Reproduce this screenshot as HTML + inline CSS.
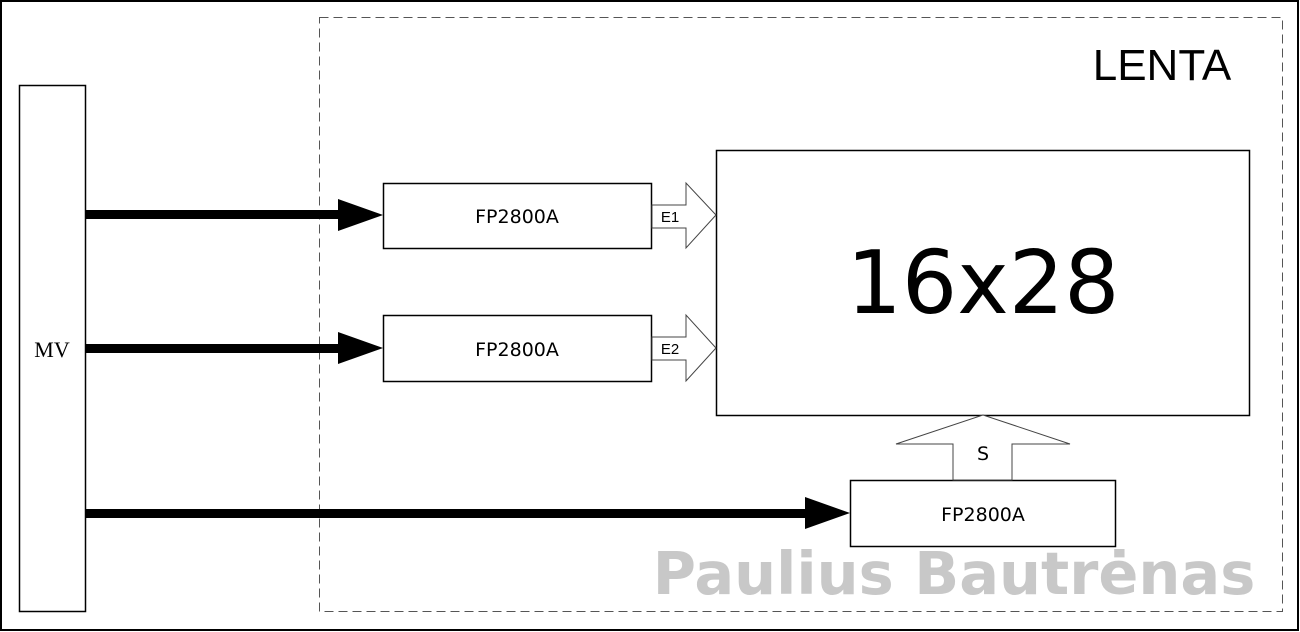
<!DOCTYPE html>
<html><head><meta charset="utf-8"><style>
html,body{margin:0;padding:0;background:#fff;}
svg{display:block;}
</style></head><body>
<svg width="1300" height="632" viewBox="0 0 1300 632" xmlns="http://www.w3.org/2000/svg">
<rect x="1" y="1" width="1297" height="629" fill="#fff" stroke="#000" stroke-width="2"/>
<rect x="319.5" y="17.5" width="963" height="594" fill="none" stroke="#555" stroke-width="1" stroke-dasharray="9,5"/>
<text x="1162" y="80" font-family="'Liberation Sans',sans-serif" font-size="44" text-anchor="middle" fill="#000">LENTA</text>
<text x="954" y="594" font-family="'DejaVu Sans',sans-serif" font-weight="bold" font-size="59" text-anchor="middle" fill="#c8c8c8">Paulius Bautrėnas</text>
<rect x="19.5" y="85.5" width="66" height="526" fill="#fff" stroke="#000" stroke-width="1.5"/>
<text x="52" y="357" font-family="'Liberation Serif',serif" font-size="22" text-anchor="middle">MV</text>
<rect x="86" y="210" width="254" height="9" fill="#000"/>
<polygon points="338,199 383,215 338,231" fill="#000"/>
<rect x="86" y="344" width="254" height="9" fill="#000"/>
<polygon points="338,332 383,348 338,364" fill="#000"/>
<rect x="86" y="509" width="722" height="9" fill="#000"/>
<polygon points="805,497 850,513 805,529" fill="#000"/>
<rect x="383.5" y="183.5" width="268" height="65" fill="#fff" stroke="#000" stroke-width="1.5"/>
<text x="517" y="223" font-family="'DejaVu Sans',sans-serif" font-size="19" text-anchor="middle">FP2800A</text>
<rect x="383.5" y="315.5" width="268" height="66" fill="#fff" stroke="#000" stroke-width="1.5"/>
<text x="517" y="356" font-family="'DejaVu Sans',sans-serif" font-size="19" text-anchor="middle">FP2800A</text>
<rect x="850.5" y="480.5" width="265" height="66" fill="#fff" stroke="#000" stroke-width="1.5"/>
<text x="983" y="521" font-family="'DejaVu Sans',sans-serif" font-size="19" text-anchor="middle">FP2800A</text>
<rect x="716.5" y="150.5" width="533" height="265" fill="#fff" stroke="#000" stroke-width="1.5"/>
<text x="983" y="313" font-family="'DejaVu Sans',sans-serif" font-size="87" text-anchor="middle">16x28</text>
<polygon points="652,205 686,205 686,183 716,215 686,248 686,228 652,228" fill="#fff" stroke="#444" stroke-width="1"/>
<text x="670" y="222" font-family="'Liberation Sans',sans-serif" font-size="15" text-anchor="middle">E1</text>
<polygon points="652,337 686,337 686,315 716,348 686,381 686,360 652,360" fill="#fff" stroke="#444" stroke-width="1"/>
<text x="670" y="354" font-family="'Liberation Sans',sans-serif" font-size="15" text-anchor="middle">E2</text>
<polygon points="953,480 953,444 896,444 983,415 1070,444 1012,444 1012,480" fill="#fff" stroke="#444" stroke-width="1"/>
<text x="983" y="460" font-family="'DejaVu Sans',sans-serif" font-size="19" text-anchor="middle">S</text>
</svg>
</body></html>
